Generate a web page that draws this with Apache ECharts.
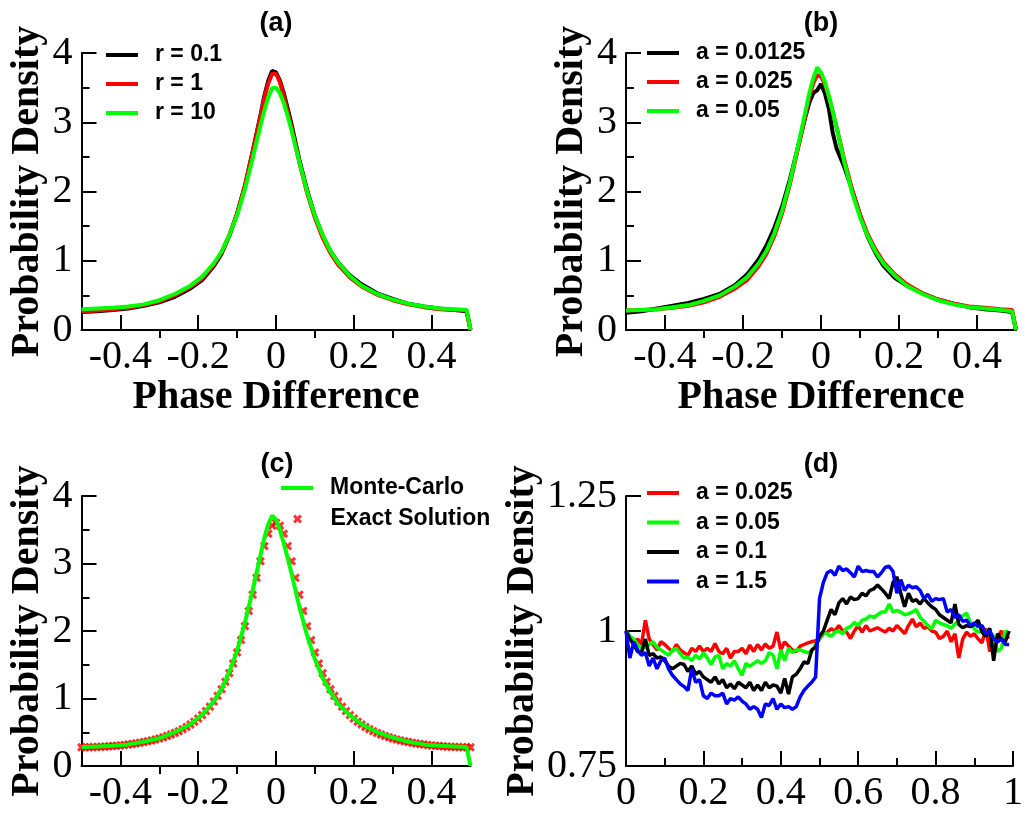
<!DOCTYPE html>
<html>
<head>
<meta charset="utf-8">
<script src="https://cdn.jsdelivr.net/npm/echarts@6/dist/echarts.min.js"></script>
<style>
html,body{margin:0;padding:0;background:#fff;}
#main{width:1026px;height:813px;}
</style>
</head>
<body>
<div id="main"></div>
<script>
// ---------- DATA ----------
// shared x grid for smooth curves in panels (a), (b), (c)
const XS = [-0.5,-0.46,-0.42,-0.38,-0.34,-0.3,-0.26,-0.22,-0.19,-0.16,-0.14,-0.12,-0.1,-0.08,-0.06,-0.04,-0.03,-0.02,-0.01,0,0.01,0.02,0.03,0.04,0.06,0.08,0.1,0.12,0.14,0.16,0.19,0.22,0.26,0.3,0.34,0.38,0.42,0.46,0.49,0.5];

// panel (a)
const A_R01 = [0.26,0.27,0.29,0.31,0.35, 0.40,0.48,0.60,0.72,0.92, 1.10,1.36,1.68,2.08,2.58, 3.10,3.38,3.60,3.74,3.72, 3.60,3.42,3.20,2.97,2.46, 2.02,1.65,1.36,1.14,0.97, 0.79,0.66,0.53,0.45,0.38, 0.34,0.31,0.29,0.27,0];
const A_R1  = [0.27,0.28,0.30,0.32,0.36, 0.41,0.50,0.62,0.74,0.94, 1.12,1.37,1.68,2.08,2.57, 3.08,3.35,3.56,3.70,3.70, 3.58,3.38,3.15,2.92,2.42, 1.98,1.62,1.33,1.11,0.94, 0.76,0.63,0.51,0.43,0.37, 0.33,0.30,0.29,0.28,0];
const A_R10 = [0.30,0.31,0.32,0.34,0.37, 0.43,0.52,0.64,0.77,0.96, 1.13,1.37,1.66,2.03,2.48, 2.95,3.17,3.36,3.49,3.50, 3.42,3.28,3.09,2.88,2.43, 2.00,1.65,1.37,1.14,0.97, 0.78,0.64,0.52,0.44,0.38, 0.34,0.31,0.30,0.29,0];

// panel (b)
const B_0125 = [0.25,0.27,0.31,0.35,0.39, 0.45,0.52,0.65,0.80,1.02, 1.22,1.47,1.78,2.17,2.62, 3.08,3.28,3.42,3.46,3.55, 3.42,3.20,2.85,2.62,2.35, 2.02,1.66,1.34,1.11,0.93, 0.75,0.64,0.53,0.44,0.38, 0.33,0.30,0.28,0.26,0];
const B_025  = [0.28,0.29,0.30,0.32,0.35, 0.40,0.48,0.60,0.72,0.92, 1.10,1.35,1.68,2.10,2.60, 3.10,3.36,3.56,3.68,3.66, 3.55,3.37,3.15,2.93,2.45, 2.02,1.67,1.38,1.16,0.98, 0.80,0.66,0.53,0.44,0.38, 0.34,0.32,0.30,0.29,0];
const B_05   = [0.28,0.29,0.30,0.33,0.36, 0.42,0.50,0.63,0.76,0.96, 1.14,1.39,1.72,2.13,2.63, 3.15,3.42,3.63,3.79,3.72, 3.58,3.38,3.16,2.92,2.42, 1.98,1.63,1.35,1.13,0.96, 0.78,0.64,0.52,0.43,0.37, 0.33,0.31,0.29,0.27,0];

// panel (c)
const C_MC = [0.28,0.29,0.30,0.32,0.36, 0.41,0.50,0.62,0.76,0.96, 1.14,1.39,1.71,2.12,2.60, 3.12,3.38,3.58,3.71,3.65, 3.50,3.30,3.08,2.85,2.36, 1.93,1.58,1.30,1.09,0.92, 0.75,0.62,0.50,0.42,0.36, 0.32,0.30,0.29,0.28,0];
const XE = [-0.5,-0.49,-0.48,-0.47,-0.46,-0.45,-0.44,-0.43,-0.42,-0.41,
  -0.4,-0.39,-0.38,-0.37,-0.36,-0.35,-0.34,-0.33,-0.32,-0.31,
  -0.3,-0.29,-0.28,-0.27,-0.26,-0.25,-0.24,-0.23,-0.22,-0.21,
  -0.2,-0.19,-0.18,-0.17,-0.16,-0.15,-0.14,-0.13,-0.12,-0.11,
  -0.1,-0.09,-0.08,-0.07,-0.06,-0.05,-0.04,-0.03,-0.02,-0.01,
  0,
  0.01,0.02,0.03,0.04,0.05,0.06,0.07,0.08,0.09,0.1,
  0.11,0.12,0.13,0.14,0.15,0.16,0.17,0.18,0.19,0.2,
  0.21,0.22,0.23,0.24,0.25,0.26,0.27,0.28,0.29,0.3,
  0.31,0.32,0.33,0.34,0.35,0.36,0.37,0.38,0.39,0.4,
  0.41,0.42,0.43,0.44,0.45,0.46,0.47,0.48,0.49,0.5];
const C_EXACT = [0.278,0.278,0.279,0.280,0.282,0.284,0.287,0.291,0.295,0.300,
  0.305,0.311,0.318,0.325,0.334,0.343,0.354,0.365,0.378,0.393,
  0.408,0.426,0.445,0.466,0.490,0.516,0.546,0.578,0.615,0.656,
  0.702,0.754,0.813,0.879,0.954,1.040,1.137,1.248,1.375,1.519,
  1.682,1.866,2.071,2.296,2.538,2.788,3.033,3.258,3.441,3.561,
  3.603,
  3.561,3.441,3.258,3.033,2.788,2.538,2.296,2.071,1.866,1.682,
  1.519,1.375,1.248,1.137,1.040,0.954,0.879,0.813,0.754,0.702,
  0.656,0.615,0.578,0.546,0.516,0.490,0.466,0.445,0.426,0.408,
  0.393,0.378,0.365,0.354,0.343,0.334,0.325,0.318,0.311,0.305,
  0.300,0.295,0.291,0.287,0.284,0.282,0.280,0.279,0.278,0.278];

// panel (d)
const XD = [0,0.01,0.02,0.03,0.04,0.05,0.06,0.07,0.08,0.09,
  0.1,0.11,0.12,0.13,0.14,0.15,0.16,0.17,0.18,0.19,
  0.2,0.21,0.22,0.23,0.24,0.25,0.26,0.27,0.28,0.29,
  0.3,0.31,0.32,0.33,0.34,0.35,0.36,0.37,0.38,0.39,
  0.4,0.41,0.42,0.43,0.44,0.45,0.46,0.47,0.48,0.49,
  0.5,0.51,0.52,0.53,0.54,0.55,0.56,0.57,0.58,0.59,
  0.6,0.61,0.62,0.63,0.64,0.65,0.66,0.67,0.68,0.69,
  0.7,0.71,0.72,0.73,0.74,0.75,0.76,0.77,0.78,0.79,
  0.8,0.81,0.82,0.83,0.84,0.85,0.86,0.87,0.88,0.89,
  0.9,0.91,0.92,0.93,0.94,0.95,0.96,0.97,0.98,0.99];
const D_025 = [1.0,0.99,0.978,0.985,0.975,1.02,0.985,0.975,0.965,0.98,
  0.975,0.968,0.962,0.975,0.965,0.96,0.955,0.968,0.962,0.972,
  0.962,0.968,0.962,0.977,0.962,0.958,0.968,0.95,0.962,0.962,
  0.968,0.958,0.974,0.962,0.975,0.965,0.976,0.968,0.972,0.998,
  0.965,0.98,0.972,0.965,0.962,0.972,0.975,0.978,0.98,0.982,
  0.985,0.995,0.998,1.004,1.0,1.01,1.0,0.998,0.986,1.0,
  1.01,0.998,1.01,1.0,1.003,1.006,1.002,0.998,1.005,1.0,
  1.01,1.003,0.995,1.01,1.022,1.008,1.015,1.005,1.008,1.0,
  0.998,0.986,0.99,1.0,0.98,0.995,0.95,0.985,0.998,0.99,
  0.995,0.985,0.978,1.005,0.962,0.975,0.988,1.0,0.985,0.99];
const D_05 = [1.0,0.99,0.985,0.975,0.968,0.97,0.975,0.98,0.97,0.965,
  0.96,0.955,0.965,0.968,0.958,0.95,0.952,0.945,0.955,0.948,
  0.96,0.95,0.938,0.952,0.955,0.93,0.94,0.935,0.945,0.93,
  0.918,0.94,0.935,0.94,0.945,0.94,0.945,0.96,0.955,0.93,
  0.965,0.945,0.968,0.96,0.965,0.965,0.962,0.96,0.962,0.975,
  0.985,0.998,0.995,0.99,0.998,1.0,0.995,1.005,1.008,1.016,
  1.01,1.02,1.022,1.028,1.025,1.03,1.035,1.035,1.05,1.035,
  1.038,1.035,1.03,1.032,1.035,1.04,1.025,1.018,1.01,1.004,
  1.02,1.015,1.012,1.01,1.005,1.013,1.02,1.028,1.033,1.015,
  1.004,0.998,1.0,1.0,0.998,0.99,0.962,0.968,1.0,0.995];
const D_1 = [1.0,0.985,0.975,0.962,0.96,0.985,0.955,0.958,0.95,0.952,
  0.945,0.935,0.93,0.935,0.94,0.938,0.925,0.935,0.92,0.925,
  0.915,0.91,0.905,0.915,0.902,0.91,0.895,0.902,0.893,0.905,
  0.9,0.895,0.905,0.89,0.9,0.89,0.905,0.895,0.9,0.898,
  0.885,0.912,0.883,0.915,0.92,0.93,0.943,0.94,0.965,0.97,
  0.99,1.0,1.02,1.04,1.03,1.052,1.06,1.05,1.063,1.058,
  1.06,1.07,1.065,1.075,1.078,1.085,1.078,1.07,1.06,1.09,
  1.10,1.07,1.045,1.07,1.055,1.058,1.05,1.06,1.052,1.045,
  1.04,1.03,1.025,1.02,1.015,1.05,1.012,1.006,1.01,1.008,
  1.012,1.02,0.998,0.99,1.005,0.945,0.995,0.985,0.98,1.0];
const D_15 = [1.0,0.95,0.98,0.965,0.955,0.96,0.935,0.95,0.93,0.945,
  0.95,0.93,0.918,0.91,0.902,0.897,0.89,0.93,0.905,0.91,
  0.88,0.875,0.885,0.88,0.88,0.885,0.865,0.875,0.872,0.878,
  0.87,0.865,0.855,0.86,0.855,0.84,0.865,0.862,0.875,0.855,
  0.865,0.858,0.86,0.855,0.86,0.878,0.89,0.898,0.905,0.915,
  1.06,1.09,1.108,1.112,1.103,1.12,1.112,1.115,1.108,1.10,
  1.12,1.11,1.112,1.11,1.11,1.10,1.108,1.118,1.12,1.11,
  1.07,1.095,1.075,1.085,1.08,1.082,1.075,1.06,1.068,1.055,
  1.06,1.058,1.06,1.035,1.04,1.025,1.03,1.018,1.02,1.01,
  1.015,1.008,1.01,0.995,1.0,0.985,0.98,0.985,0.975,0.975];

// tick labels
const PHASE_MAJOR = [-0.4,-0.2,0,0.2,0.4];
const PHASE_MINOR = [-0.3,-0.1,0.1,0.3];

// ---------- STYLE ----------
const SERIF = '"Liberation Serif", "Times New Roman", serif';
const SANS = '"Liberation Sans", Arial, sans-serif';
const CROSS = 'path://M0,2.4 L2.4,0 L5,2.6 L7.6,0 L10,2.4 L7.4,5 L10,7.6 L7.6,10 L5,7.4 L2.4,10 L0,7.6 L2.6,5 Z';
const RED = '#ff0000', GREEN = '#00ff00', BLACK = '#000000', BLUE = '#0000ff';

function zip(xs, ys){ return xs.map((x,i)=>[x, ys[i]]); }

const grids = [
  {left:81.5, top:53, width:389, height:277},
  {left:626, top:53, width:390, height:277},
  {left:81.5, top:496, width:389, height:276},
  {left:626, top:496, width:390, height:276}
];

const axisLineStyle = {show:true, onZero:false, lineStyle:{color:'#000', width:2}};
const labelStyle = {fontFamily:SERIF, fontSize:40, color:'#000'};
const nameStyle = {fontFamily:SERIF, fontSize:40, fontWeight:'bold', color:'#000'};

function phaseMain(gi, withName){
  return {
    gridIndex:gi, type:'value', min:-0.5, max:0.5,
    axisLine:axisLineStyle,
    axisTick:{show:true, inside:true, length:15, customValues:PHASE_MAJOR, lineStyle:{color:'#000', width:2}},
    axisLabel:{show:true, customValues:PHASE_MAJOR, margin:7, ...labelStyle},
    splitLine:{show:false},
    name: withName ? 'Phase Difference' : '',
    nameLocation:'middle', nameGap:42, nameTextStyle:nameStyle
  };
}
function phaseMinor(gi){
  return {
    gridIndex:gi, type:'value', min:-0.5, max:0.5,
    axisLine:{show:false},
    axisTick:{show:true, inside:true, length:8, customValues:PHASE_MINOR, lineStyle:{color:'#000', width:2}},
    axisLabel:{show:false},
    splitLine:{show:false}
  };
}
function densityY(gi, min, max, interval, minor, gap){
  return {
    gridIndex:gi, type:'value', min:min, max:max, interval:interval,
    axisLine:axisLineStyle,
    axisTick:{show:true, inside:true, length:15, lineStyle:{color:'#000', width:2}},
    minorTick:{show:minor, splitNumber:2, length:8, lineStyle:{color:'#000', width:2}},
    axisLabel:{margin:9, ...labelStyle},
    splitLine:{show:false}, minorSplitLine:{show:false},
    name:'Probability Density', nameLocation:'middle', nameRotate:90, nameGap:gap,
    nameTextStyle:nameStyle
  };
}

const xAxes = [
  phaseMain(0,true), phaseMinor(0),
  phaseMain(1,true), phaseMinor(1),
  phaseMain(2,false), phaseMinor(2),
  {
    gridIndex:3, type:'value', min:0, max:1, interval:0.2,
    axisLine:axisLineStyle,
    axisTick:{show:true, inside:true, length:15, lineStyle:{color:'#000', width:2}},
    minorTick:{show:true, splitNumber:2, length:8, lineStyle:{color:'#000', width:2}},
    axisLabel:{margin:7, ...labelStyle},
    splitLine:{show:false}, minorSplitLine:{show:false}
  }
];
const yAxes = [
  densityY(0,0,4,1,true,34),
  densityY(1,0,4,1,true,34),
  densityY(2,0,4,1,true,34),
  densityY(3,0.75,1.25,0.25,false,74)
];

function line(name, xi, yi, xs, ys, color, w){
  return {
    type:'line', name:name, xAxisIndex:xi, yAxisIndex:yi,
    data:zip(xs, ys), showSymbol:false, symbol:'none',
    lineStyle:{color:color, width:w}, itemStyle:{color:color},
    clip:true, animation:false
  };
}

const series = [
  line('r = 0.1', 0, 0, XS, A_R01, BLACK, 4),
  line('r = 1',   0, 0, XS, A_R1,  RED,   4),
  line('r = 10',  0, 0, XS, A_R10, GREEN, 4),
  line('a = 0.0125', 2, 1, XS, B_0125, BLACK, 4),
  line('a = 0.025',  2, 1, XS, B_025,  RED,   4),
  line('a = 0.05',   2, 1, XS, B_05,   GREEN, 4),
  line('Monte-Carlo', 4, 2, XS, C_MC, GREEN, 4),
  {
    type:'scatter', name:'Exact Solution', xAxisIndex:4, yAxisIndex:2,
    data:zip(XE, C_EXACT), symbol:CROSS, symbolSize:9,
    itemStyle:{color:RED}, animation:false
  },
  line('a = 0.025', 6, 3, XD, D_025, RED,   3.5),
  line('a = 0.05',  6, 3, XD, D_05,  GREEN, 3.5),
  line('a = 0.1',   6, 3, XD, D_1,   BLACK, 3.5),
  line('a = 1.5',   6, 3, XD, D_15,  BLUE,  3.5)
];

const legendText = {fontFamily:SANS, fontWeight:'bold', fontSize:23, lineHeight:24, color:'#000', padding:[0,0,0,12]};
function legend(left, top, names, gap){
  return {
    orient:'vertical', left:left, top:top, padding:0, itemGap:gap,
    itemWidth:32, itemHeight:4, icon:'rect', selectedMode:false,
    textStyle:legendText, data:names
  };
}

const legends = [
  legend(106, 43, ['r = 0.1','r = 1','r = 10'], 5),
  legend(647, 41, ['a = 0.0125','a = 0.025','a = 0.05'], 5),
  legend(281, 476, ['Monte-Carlo'], 5),
  {
    orient:'vertical', left:293, top:507, padding:0,
    itemWidth:32, itemHeight:9, selectedMode:false, symbolKeepAspect:true,
    textStyle:legendText, data:[{name:'Exact Solution', icon:CROSS}]
  },
  legend(647, 481, ['a = 0.025','a = 0.05','a = 0.1','a = 1.5'], 5.5)
];

const titleFont = 'bold 27px ' + SANS;
const titles = [
  {t:'(a)', x:276, y:24}, {t:'(b)', x:821, y:24},
  {t:'(c)', x:277, y:465}, {t:'(d)', x:821, y:465}
];

const chart = echarts.init(document.getElementById('main'), null, {renderer:'canvas'});
chart.setOption({
  backgroundColor:'#ffffff',
  animation:false,
  grid:grids,
  xAxis:xAxes,
  yAxis:yAxes,
  legend:legends,
  series:series,
  graphic:titles.map(o=>({
    type:'text', x:o.x, y:o.y, z:100,
    style:{text:o.t, font:titleFont, fill:'#000', textAlign:'center', textVerticalAlign:'middle'}
  }))
});
</script>
</body>
</html>
